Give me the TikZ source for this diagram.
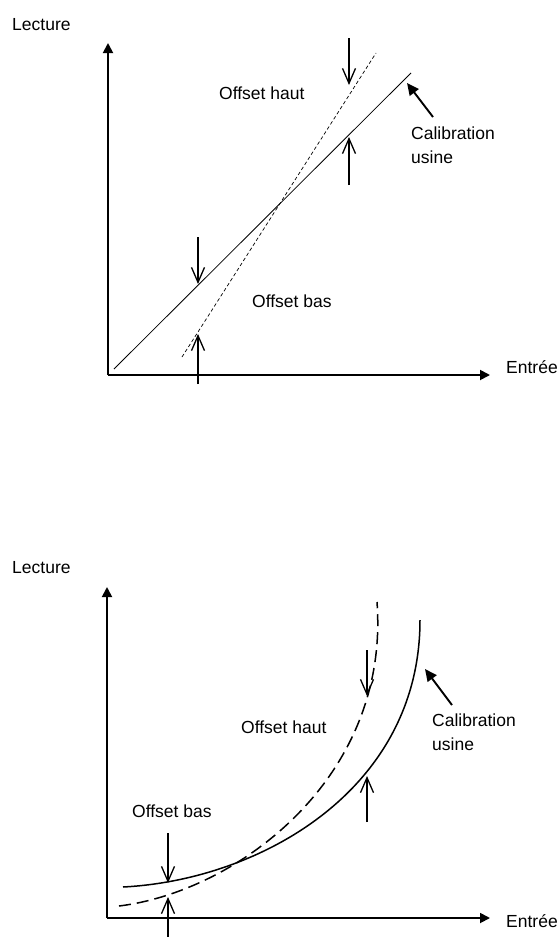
\documentclass[tikz,border=0pt]{standalone}
\usepackage{fontspec}
\setmainfont{Liberation Sans}
\usetikzlibrary{arrows.meta,positioning,calc}

\begin{document}
\begin{tikzpicture}[
  x=1pt, y=-1pt,
  lbl/.style={
    inner sep=0pt,
    anchor=west,
    align=left,
    font=\fontsize{17.5}{24}\selectfont
  },
  axis/.style={line width=1.8pt, -{Triangle[length=10pt,width=10pt]}},
  offset/.style={line width=1.3pt, -{Straight Barb[length=15pt,width=13pt]}},
  pointer/.style={line width=1.9pt, -{Triangle[length=12pt,width=11pt]}},
  usine/.style={line width=0.8pt},
  shifted/.style={line width=0.7pt, dash pattern=on 3.5pt off 2.5pt},
  usinecurve/.style={line width=1.5pt},
  shiftedcurve/.style={line width=1.5pt, dash pattern=on 12pt off 6pt}
]
\useasboundingbox (0,0) rectangle (558,937);

% -------- Upper chart: axes --------
\coordinate (O1) at (108,375);
\coordinate (Y1) at (108,43);
\coordinate (X1) at (490,375);
\draw[axis] (O1) -- (Y1);
\draw[axis] (O1) -- (X1);

\node[lbl] (lect1) at (12,25) {Lecture};
\node[lbl] (entr1) at (506,367) {Entrée};

% -------- Upper chart: lines --------
\coordinate (la1) at (114,369);
\coordinate (lb1) at (411,73);
\coordinate (da1) at (182,357);
\coordinate (db1) at (376,53);
\draw[usine] (la1) -- (lb1);
\draw[shifted] (da1) -- (db1);

% -------- Upper chart: offsets --------
\node[lbl] (haut1) at (219,93) {Offset haut};
\node[lbl] (bas1) at (252,301) {Offset bas};
\node[lbl] (cal1) at (411,145) {Calibration\\usine};

\coordinate (hA1) at (349,38);
\coordinate (hB1) at (349,85);
\coordinate (hC1) at (349,185);
\coordinate (hD1) at (349,137);
\coordinate (bA1) at (198,237);
\coordinate (bB1) at (198,284);
\coordinate (bC1) at (198,384);
\coordinate (bD1) at (198,334);
\draw[offset] (hA1) -- (hB1);
\draw[offset] (hC1) -- (hD1);
\draw[offset] (bA1) -- (bB1);
\draw[offset] (bC1) -- (bD1);

\coordinate (cp1) at (407,83);
\draw[pointer] (433,117) coordinate (ct1) -- (cp1);

% -------- Lower chart: axes --------
\coordinate (O2) at (107,918);
\coordinate (Y2) at (107,587);
\coordinate (X2) at (490,918);
\draw[axis] (O2) -- (Y2);
\draw[axis] (O2) -- (X2);

\node[lbl] (lect2) at (12,568) {Lecture};
\node[lbl] (entr2) at (506,921) {Entrée};

% -------- Lower chart: curves --------
\coordinate (ua2) at (123,887);
\coordinate (ub2) at (420,620);
\coordinate (sa2) at (119,906);
\coordinate (sb2) at (377,602);
\draw[usinecurve] (ua2) .. controls (260,880) and (420,790) .. (ub2);
\draw[shiftedcurve] (sa2) .. controls (235,892) and (390,780) .. (sb2);

% -------- Lower chart: offsets --------
\node[lbl] (haut2) at (241,727) {Offset haut};
\node[lbl] (bas2) at (132,811) {Offset bas};
\node[lbl] (cal2) at (432,732) {Calibration\\usine};

\coordinate (hA2) at (367,650);
\coordinate (hB2) at (367,696);
\coordinate (hC2) at (367,822);
\coordinate (hD2) at (367,776);
\coordinate (bA2) at (168,833);
\coordinate (bB2) at (168,883);
\coordinate (bC2) at (168,937);
\coordinate (bD2) at (168,897);
\draw[offset] (hA2) -- (hB2);
\draw[offset] (hC2) -- (hD2);
\draw[offset] (bA2) -- (bB2);
\draw[offset] (bC2) -- (bD2);

\coordinate (cp2) at (425,669);
\draw[pointer] (452,705) coordinate (ct2) -- (cp2);

\end{tikzpicture}
\end{document}
